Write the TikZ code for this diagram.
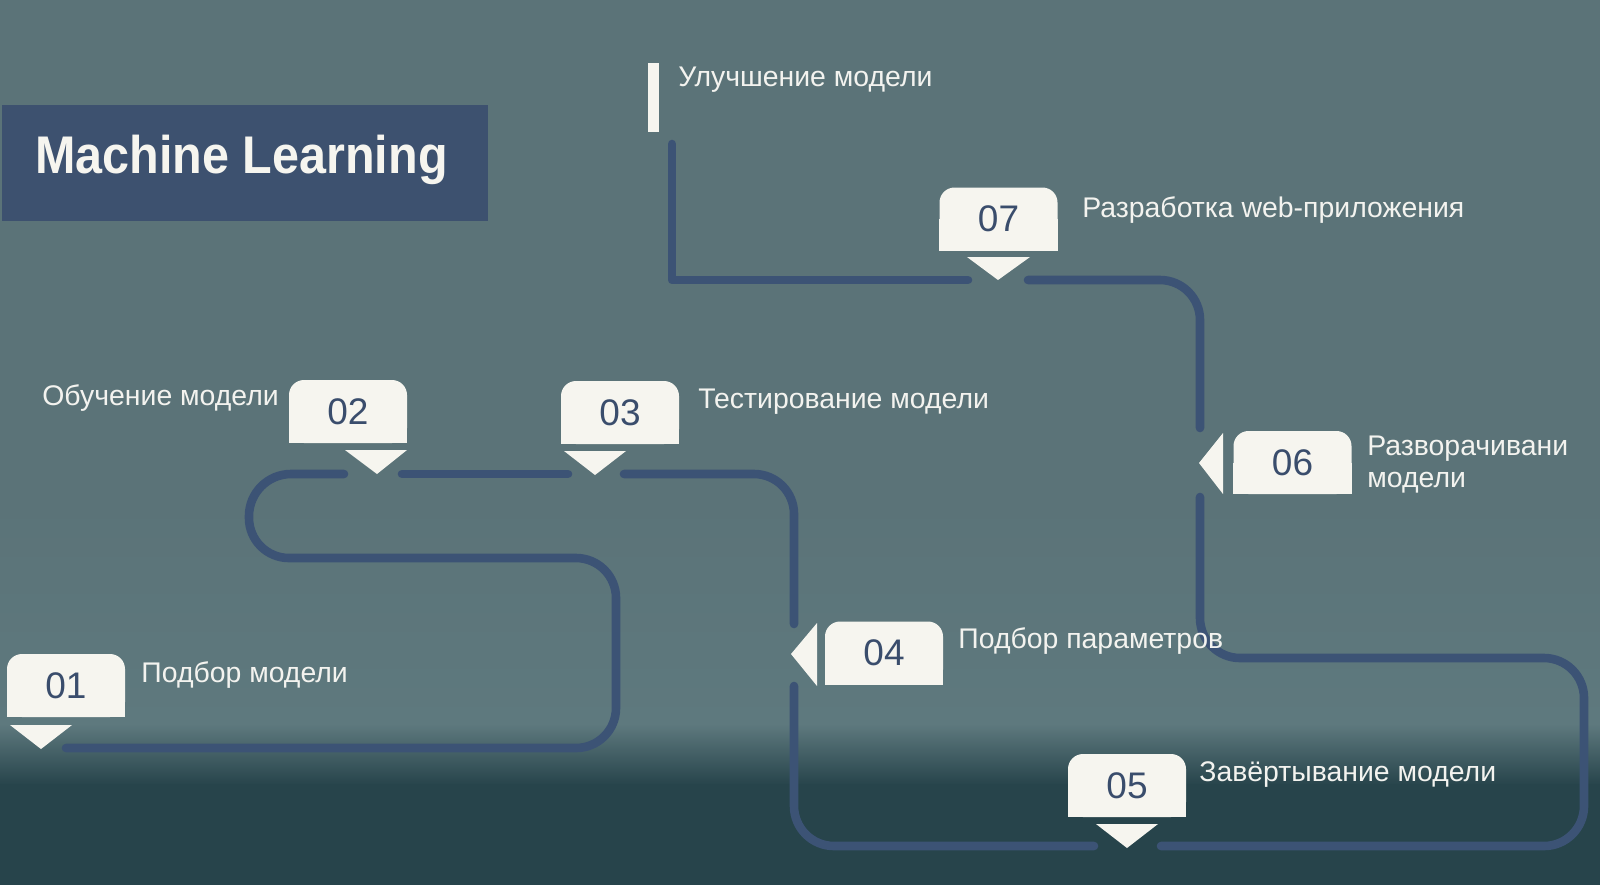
\documentclass[tikz,border=0pt]{standalone}
\usepackage{fontspec}
\setmainfont{Liberation Sans}
\usepackage{graphicx}
\definecolor{bgtop}{HTML}{5B7378}
\definecolor{bgmid}{HTML}{5E797E}
\definecolor{bgbot}{HTML}{27444B}
\definecolor{pathblue}{HTML}{3C5375}
\definecolor{titlebg}{HTML}{3D516F}
\definecolor{cream}{HTML}{F6F5EF}
\definecolor{numblue}{HTML}{3A4D6C}
\definecolor{lbltext}{HTML}{F3F3EF}
\begin{document}
\begin{tikzpicture}[x=0.5pt,y=-0.5pt,
  numbox/.style={fill=cream, rounded corners=7.5pt, minimum width=59pt, minimum height=31.5pt, inner sep=0pt},
  numtxt/.style={text=numblue, font=\fontsize{18.5pt}{20pt}\selectfont},
  lbl/.style={anchor=base west, inner sep=0pt, text=lbltext, font=\fontsize{14.2pt}{16pt}\selectfont},
  track/.style={draw=pathblue, line width=4.3pt, line cap=round, line join=round, rounded corners=20pt},
  tri/.style={fill=cream}]
\useasboundingbox (0,0) rectangle (1600,885);
% background
\fill[bgtop] (0,0) rectangle (1600,700);
\shade[top color=bgtop, bottom color=bgmid] (0,500) rectangle (1600,725);
\shade[top color=bgmid, bottom color=bgbot] (0,724) rectangle (1600,785);
\fill[bgbot] (0,784) rectangle (1600,885);

% title
\fill[titlebg] (2,105) rectangle (488,221);
\node[anchor=base west, inner sep=0pt, text=cream, font=\fontsize{26.5pt}{30pt}\selectfont\bfseries] (title) at (35,173)
  {\scalebox{0.915}[1]{Machine Learning}};

% top bar
\fill[cream] (648,63) rectangle (659,132);

% track coordinates
\coordinate (a1) at (66,748);   \coordinate (a2) at (616,748);
\coordinate (a3) at (616,558);  \coordinate (a4) at (249,558);
\coordinate (a5) at (249,474);  \coordinate (a6) at (344,474);
\coordinate (b1) at (402,474);  \coordinate (b2) at (568,474);
\coordinate (c1) at (624,474);  \coordinate (c2) at (794,474);
\coordinate (c3) at (794,624);
\coordinate (d1) at (794,686);  \coordinate (d2) at (794,846);
\coordinate (d3) at (1094,846);
\coordinate (e1) at (1161,846); \coordinate (e2) at (1584,846);
\coordinate (e3) at (1584,658); \coordinate (e4) at (1200,658);
\coordinate (e5) at (1200,497);
\coordinate (f1) at (1200,428); \coordinate (f2) at (1200,280);
\coordinate (f3) at (1028,280);
\coordinate (g1) at (968,280);  \coordinate (g2) at (672,280);
\coordinate (g3) at (672,144);

\draw[track] (a1) -- (a2) -- (a3) -- (a4) [rounded corners=21pt] -- (a5) -- (a6);
\draw[track] (b1) -- (b2);
\draw[track] (c1) -- (c2) -- (c3);
\draw[track] (d1) -- (d2) -- (d3);
\draw[track] (e1) -- (e2) -- (e3) -- (e4) -- (e5);
\draw[track] (f1) -- (f2) -- (f3);
\draw[track, sharp corners] (g1) -- (g2) -- (g3);

% markers
\node[numbox] (m1) at (66,685.5) {};
\node[numbox] (m2) at (348,411.5) {};
\node[numbox] (m3) at (620,412.5) {};
\node[numbox] (m4) at (884,653) {};
\node[numbox] (m5) at (1127,785.5) {};
\node[numbox] (m6) at (1292.5,462.5) {};
\node[numbox] (m7) at (998.5,219) {};
\foreach \m in {m1,m2,m3,m4,m5,m6,m7}{\fill[cream] (\m.west) rectangle (\m.south east);}
\node[numtxt] (n1) at (m1) {01};
\node[numtxt] (n2) at (m2) {02};
\node[numtxt] (n3) at (m3) {03};
\node[numtxt] (n4) at (m4) {04};
\node[numtxt] (n5) at (m5) {05};
\node[numtxt] (n6) at (m6) {06};
\node[numtxt] (n7) at (m7) {07};

% pointer triangles
\fill[tri] (10,725) -- (72,725) -- (41,749) -- cycle;
\fill[tri] (345,450) -- (407,450) -- (377,474) -- cycle;
\fill[tri] (564,451) -- (626,451) -- (595,475) -- cycle;
\fill[tri] (817,623) -- (817,686) -- (791,654) -- cycle;
\fill[tri] (1096,824) -- (1158,824) -- (1127,848) -- cycle;
\fill[tri] (1223,433) -- (1223,494) -- (1199,463) -- cycle;
\fill[tri] (967,257) -- (1030,257) -- (998,280) -- cycle;

% labels
\node[lbl] (t0) at (678,86) {Улучшение модели};
\node[lbl] (t7) at (1082,217) {Разработка web-приложения};
\node[lbl] (t2) at (42,405) {Обучение модели};
\node[lbl] (t3) at (698,408) {Тестирование модели};
\node[lbl] (t6a) at (1367,455) {Разворачивани};
\node[lbl] (t6b) at (1367,487) {модели};
\node[lbl] (t4) at (958,648) {Подбор параметров};
\node[lbl] (t5) at (1199,781) {Завёртывание модели};
\node[lbl] (t1) at (141,682) {Подбор модели};
\end{tikzpicture}
\end{document}
